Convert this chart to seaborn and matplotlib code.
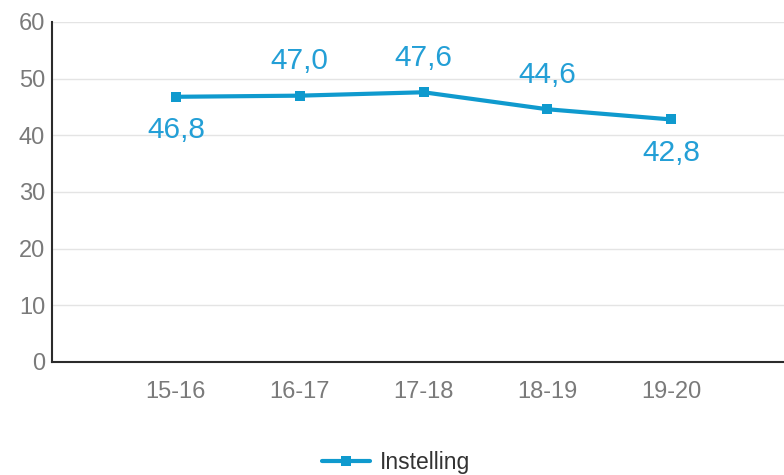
import matplotlib
matplotlib.use("Agg")
import matplotlib.pyplot as plt
import seaborn as sns
import pandas as pd

# School years and the "Instelling" score per year
years = ["15-16", "16-17", "17-18", "18-19", "19-20"]
values = [46.8, 47.0, 47.6, 44.6, 42.8]
label_above = [False, True, True, True, False]
series_name = "Instelling"
y_ticks = [0, 10, 20, 30, 40, 50, 60]

LINE = "#0f9ace"
LABEL = "#239fd6"
TICK = "#7a7a7a"

sns.set_theme(style="white")
plt.rcParams["font.family"] = ["Liberation Sans", "DejaVu Sans"]

df = pd.DataFrame({"year": years, "value": values})

fig = plt.figure(figsize=(7.84, 4.75), dpi=100)
ax = fig.add_axes([0.0663, 0.2379, 0.9337, 0.7158])

sns.lineplot(data=df, x="year", y="value", ax=ax, sort=False,
             color=LINE, linewidth=3.0, marker="s", markersize=7,
             markeredgewidth=0, label=series_name, legend=False)

# value labels in Dutch decimal notation
for i, (v, up) in enumerate(zip(values, label_above)):
    ax.annotate(f"{v:.1f}".replace(".", ","), (i, v),
                xytext=(0, 25 if up else -24), textcoords="offset points",
                ha="center", va="center", fontsize=21.5, color=LABEL)

ax.set_ylim(0, 60)
ax.set_yticks(y_ticks)
ax.set_xlim(-1, 4.91)
ax.set_xlabel("")
ax.set_ylabel("")
ax.grid(axis="y", color="#e4e4e4", linewidth=1.0)
ax.set_axisbelow(True)
ax.tick_params(axis="both", length=0, labelsize=17, labelcolor=TICK)
ax.tick_params(axis="x", pad=14)
ax.tick_params(axis="y", pad=5)

for side in ["top", "right"]:
    ax.spines[side].set_visible(False)
for side in ["left", "bottom"]:
    ax.spines[side].set_color("#2b2b2b")
    ax.spines[side].set_linewidth(1.5)

handles, labels = ax.get_legend_handles_labels()
fig.legend(handles, labels, loc="center", bbox_to_anchor=(0.505, 0.026),
           frameon=False, fontsize=16.5, handlelength=2.1, handletextpad=0.4,
           labelcolor="#333333")

fig.savefig("out.png", dpi=100, facecolor="white")
